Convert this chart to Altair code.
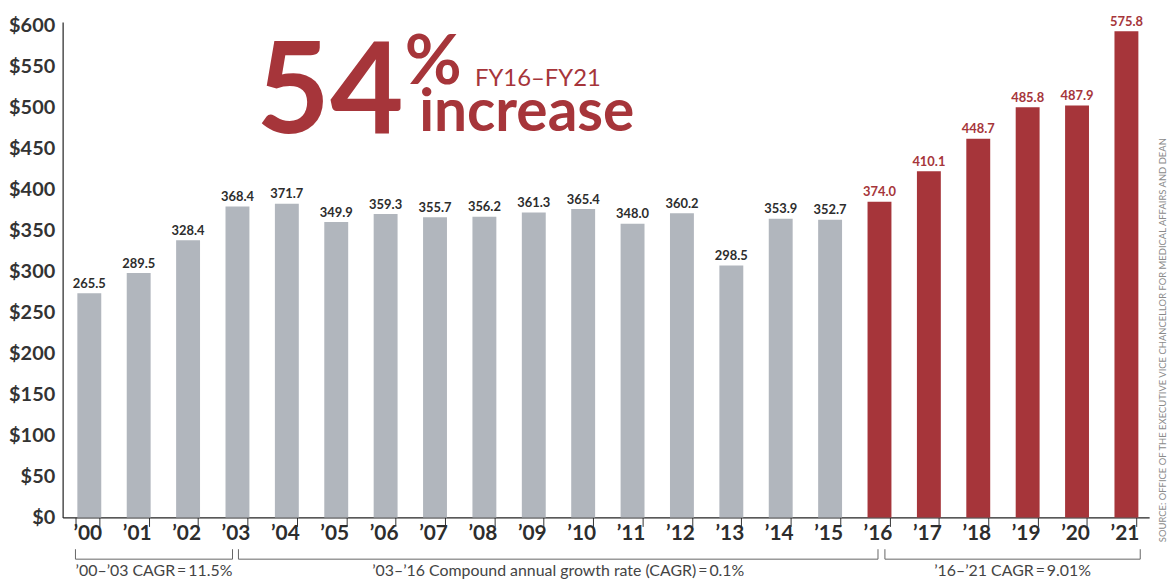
import altair as alt
import pandas as pd

# ---- data ----
years = ["’00", "’01", "’02", "’03", "’04", "’05", "’06", "’07", "’08", "’09", "’10",
         "’11", "’12", "’13", "’14", "’15", "’16", "’17", "’18", "’19", "’20", "’21"]
values = [265.5, 289.5, 328.4, 368.4, 371.7, 349.9, 359.3, 355.7, 356.2, 361.3, 365.4,
          348.0, 360.2, 298.5, 353.9, 352.7, 374.0, 410.1, 448.7, 485.8, 487.9, 575.8]
groups = ["pre"] * 16 + ["post"] * 6
axis_ticks = [0, 50, 100, 150, 200, 250, 300, 350, 400, 450, 500, 550, 600]

bracket_labels = ["’00–’03 CAGR\u2009=\u200911.5%",
                  "’03–’16 Compound annual growth rate (CAGR)\u2009=\u20090.1%",
                  "’16–’21 CAGR\u2009=\u20099.01%"]
bracket_start_idx = [0, 3, 16]
bracket_end_idx = [3, 16, 21]

source_text = "SOURCE: OFFICE OF THE EXECUTIVE VICE CHANCELLOR FOR MEDICAL AFFAIRS AND DEAN"

# ---- styles / layout ----
RED = "#a6353a"
GRAY = "#b1b6bd"
DARK = "#2d2d2d"
FONT = "Lato"
W, H = 1094, 499
BAR_DOMAIN = [0, 587]
AXIS_DOMAIN = [0, 604]
N = len(years)

df = pd.DataFrame({"year": years, "value": values, "grp": groups})

# bracket geometry in band units (layout only)
b_start_off = [0.26, 0.56, 0.65]
b_end_off = [0.44, 0.51, 0.82]
bdf = pd.DataFrame({
    "label": bracket_labels,
    "s": [i + o for i, o in zip(bracket_start_idx, b_start_off)],
    "e": [i + o for i, o in zip(bracket_end_idx, b_end_off)],
})
bdf["mid"] = (bdf["s"] + bdf["e"]) / 2

xband = alt.Scale(paddingInner=0.516, paddingOuter=0.258)
ybar = alt.Scale(domain=BAR_DOMAIN, nice=False, zero=True)
xq = alt.Scale(domain=[0, N], nice=False, zero=False)

is_red = alt.datum.grp == "post"

xaxis = alt.Axis(tickBand="extent", tickSize=9, tickColor="#333",
                 domainColor="#222", domainWidth=1.2, labelAngle=0,
                 labelFont=FONT, labelFontWeight="bold", labelFontSize=21,
                 labelColor=DARK, labelPadding=-4, grid=False)

bars = alt.Chart(df).mark_bar(xOffset=2).encode(
    x=alt.X("year:N", sort=None, scale=xband, title=None, axis=xaxis),
    y=alt.Y("value:Q", scale=ybar, axis=None),
    color=alt.condition(is_red, alt.value(RED), alt.value(GRAY)),
)

labels = alt.Chart(df).mark_text(xOffset=2, dy=-5.5, baseline="alphabetic",
                                 font=FONT, fontWeight="bold", fontSize=13).encode(
    x=alt.X("year:N", sort=None, scale=xband, title=None, axis=xaxis),
    y=alt.Y("value:Q", scale=ybar, axis=None),
    text=alt.Text("value:Q", format=".1f"),
    color=alt.condition(is_red, alt.value(RED), alt.value(DARK)),
)

data_layer = alt.layer(bars, labels)

# y axis (drawn on its own scale as in the original graphic)
axdf = pd.DataFrame({"v": axis_ticks})
yaxis_layer = alt.Chart(axdf).mark_rule(opacity=0).encode(
    y=alt.Y("v:Q", scale=alt.Scale(domain=AXIS_DOMAIN, nice=False), title=None,
            axis=alt.Axis(orient="left", values=axis_ticks, labelExpr="'$' + datum.value",
                          ticks=False, grid=False, domainColor="#222", domainWidth=1.2,
                          labelFont=FONT, labelFontWeight="bold", labelFontSize=20,
                          labelColor="#333", labelPadding=8)),
)

# brackets
BR_LINE, BR_TOP, BR_TEXT = -49.4, -37.6, -63.5
br_h = alt.Chart(bdf).mark_rule(color="#666", strokeWidth=1).encode(
    x=alt.X("s:Q", scale=xq, axis=None), x2="e:Q",
    y=alt.Y(datum=BR_LINE, scale=ybar, axis=None),
)
br_v = alt.Chart(bdf).transform_fold(["s", "e"], as_=["k", "xx"]).mark_rule(
    color="#666", strokeWidth=1).encode(
    x=alt.X("xx:Q", scale=xq, axis=None),
    y=alt.Y(datum=BR_LINE, scale=ybar, axis=None),
    y2=alt.Y2(datum=BR_TOP),
)
br_t = alt.Chart(bdf).mark_text(font=FONT, fontSize=16, color="#444",
                                baseline="middle").encode(
    x=alt.X("mid:Q", scale=xq, axis=None),
    y=alt.Y(datum=BR_TEXT, scale=ybar, axis=None),
    text="label:N",
)

def note(txt, xu, yv, size, weight="normal", color=RED, angle=0, align="left"):
    return alt.Chart(pd.DataFrame({"t": [txt]})).mark_text(
        font=FONT, fontSize=size, fontWeight=weight, color=color, align=align,
        baseline="alphabetic", angle=angle).encode(
        x=alt.X(datum=xu, scale=xq, axis=None),
        y=alt.Y(datum=yv, scale=ybar, axis=None),
        text="t:N",
    )

big54 = note("54", 3.92, 455.3, 128, "bold")
pct = note("%", 6.93, 513, 70, "bold")
fy = note("FY16–FY21", 8.35, 510.6, 24)
inc = note("increase", 7.22, 457.6, 59, "bold")
src = alt.Chart(pd.DataFrame({"t": [source_text]})).mark_text(
    font=FONT, fontSize=9.5, color="#8a8a8a", angle=270, align="center",
    baseline="middle").encode(
    x=alt.X(datum=22.28, scale=xq, axis=None),
    y=alt.Y(datum=210, scale=ybar, axis=None),
    text="t:N",
)

annot_layer = alt.layer(br_h, br_v, br_t, big54, pct, fy, inc, src)

chart = alt.layer(yaxis_layer, data_layer, annot_layer).resolve_scale(
    x="independent", y="independent"
).properties(
    width=W, height=H,
    padding={"left": 0, "top": 5, "right": 0, "bottom": 0},
    background="white",
).configure_view(stroke=None)

chart.save("out.html", embed_options={"renderer": "svg", "actions": False})
